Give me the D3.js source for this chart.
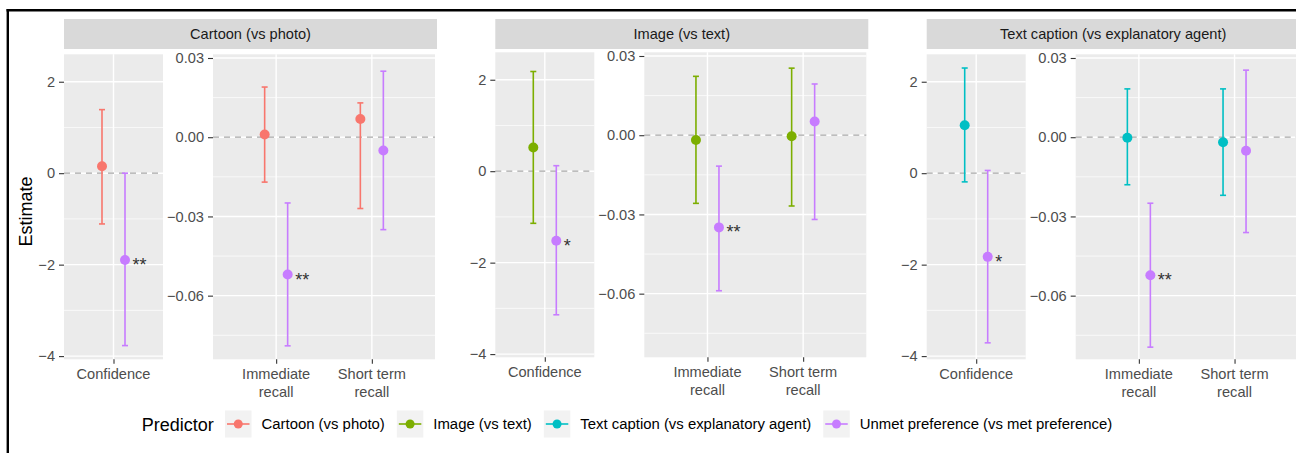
<!DOCTYPE html>
<html>
<head>
<meta charset="utf-8">
<script src="https://cdn.jsdelivr.net/npm/d3@7"></script>
<style>
  html, body { margin: 0; padding: 0; background: #fff; }
  svg { display: block; font-family: "Liberation Sans", Arial, sans-serif; }
</style>
</head>
<body>
<div id="chart"></div>
<script>
// ── data ─────────────────────────────────────────
const GROUPS = ["Cartoon (vs photo)", "Image (vs text)", "Text caption (vs explanatory agent)"];
const PREDICTORS = ["Cartoon (vs photo)", "Image (vs text)", "Text caption (vs explanatory agent)", "Unmet preference (vs met preference)"];
const PRED_COLORS = ["#F8766D", "#7CAE00", "#00BFC4", "#C77CFF"];

const CONF_OUTCOMES = ["Confidence"];
const RECALL_OUTCOMES = ["Immediate recall", "Short term recall"];
const RECALL_LABELS = [["Immediate", "recall"], ["Short term", "recall"]];

// per group: [group predictor, unmet preference]
const confEst = [[0.15, -1.90], [0.52, -1.52], [1.05, -1.83]];
const confLo  = [[-1.11, -3.77], [-1.14, -3.14], [-0.19, -3.71]];
const confHi  = [[1.39, 0.00], [2.18, 0.12], [2.30, 0.06]];
const confSig = [["", "**"], ["", "*"], ["", "*"]];

// per group: [outcome][group predictor, unmet preference]
const recallEst = [
  [[0.0010, -0.0520], [0.0069, -0.0050]],
  [[-0.0018, -0.0349], [-0.0004, 0.0052]],
  [[-0.0002, -0.0523], [-0.0019, -0.0051]]
];
const recallLo = [
  [[-0.0170, -0.0790], [-0.0270, -0.0350]],
  [[-0.0258, -0.0589], [-0.0268, -0.0319]],
  [[-0.0180, -0.0795], [-0.0220, -0.0361]]
];
const recallHi = [
  [[0.0190, -0.0249], [0.0130, 0.0250]],
  [[0.0223, -0.0117], [0.0254, 0.0194]],
  [[0.0183, -0.0250], [0.0183, 0.0254]]
];
const recallSig = [
  [["", "**"], ["", ""]],
  [["", "**"], ["", ""]],
  [["", "**"], ["", ""]]
];

const confDomain = [-4.07, 2.6];
const confTicks = [-4, -2, 0, 2];
const confMinor = [-3, -1, 1];
const recallDomain = [-0.0841, 0.0314];
const recallTicks = [-0.06, -0.03, 0, 0.03];
const recallMinor = [-0.075, -0.045, -0.015, 0.015];

// ── layout ───────────────────────────────────────
const W = 1296, H = 453;
const groupLeft = [64, 495.3, 926.7];
const groupShift = [0, -2, 0];
const stripTop = 19, stripH = 30, stripW = 373;
const panelTop = 54.3, panelBottom = 359.3;
const confW = 99, recallOff = 149, recallW = 222;
const dodge = 11.5;
const FONT = 14.6;
const LEG_FONT = 14.9;

const svg = d3.select("#chart").append("svg")
  .attr("width", W).attr("height", H);

svg.append("rect").attr("width", W).attr("height", H).attr("fill", "#fff");

function drawPanel(parent, x0, width, cats, labels, domain, ticks, minor, fmt, rows) {
  const g = parent.append("g").attr("transform", `translate(${x0},0)`);
  const y = d3.scaleLinear().domain(domain).range([panelBottom, panelTop]);
  const x = d3.scalePoint().domain(cats).range([0, width]).padding(cats.length > 1 ? 0.66 : 0.5);

  g.append("rect")
    .attr("x", 0).attr("y", panelTop)
    .attr("width", width).attr("height", panelBottom - panelTop)
    .attr("fill", "#EBEBEB");

  g.selectAll(".minor").data(minor).join("line")
    .attr("x1", 0).attr("x2", width)
    .attr("y1", d => y(d)).attr("y2", d => y(d))
    .attr("stroke", "#fff").attr("stroke-width", 0.7);
  g.selectAll(".major").data(ticks).join("line")
    .attr("x1", 0).attr("x2", width)
    .attr("y1", d => y(d)).attr("y2", d => y(d))
    .attr("stroke", "#fff").attr("stroke-width", 1.4);
  g.selectAll(".vmajor").data(cats).join("line")
    .attr("x1", d => x(d)).attr("x2", d => x(d))
    .attr("y1", panelTop).attr("y2", panelBottom)
    .attr("stroke", "#fff").attr("stroke-width", 1.4);

  // reference line at zero
  g.append("line")
    .attr("x1", 0).attr("x2", width)
    .attr("y1", y(0)).attr("y2", y(0))
    .attr("stroke", "#A8A8A8").attr("stroke-width", 1.2)
    .attr("stroke-dasharray", "6,5");

  const px = d => x(d.cat) + (d.k === 0 ? -dodge : dodge);

  const bars = g.selectAll(".eb").data(rows).join("g");
  bars.append("line")
    .attr("x1", px).attr("x2", px)
    .attr("y1", d => y(d.lo)).attr("y2", d => y(d.hi))
    .attr("stroke", d => d.color).attr("stroke-width", 1.6);
  bars.append("line")
    .attr("x1", d => px(d) - 3).attr("x2", d => px(d) + 3)
    .attr("y1", d => y(d.lo)).attr("y2", d => y(d.lo))
    .attr("stroke", d => d.color).attr("stroke-width", 1.6);
  bars.append("line")
    .attr("x1", d => px(d) - 3).attr("x2", d => px(d) + 3)
    .attr("y1", d => y(d.hi)).attr("y2", d => y(d.hi))
    .attr("stroke", d => d.color).attr("stroke-width", 1.6);
  bars.append("circle")
    .attr("cx", px).attr("cy", d => y(d.est)).attr("r", 5)
    .attr("fill", d => d.color);
  bars.filter(d => d.sig).append("text")
    .attr("x", d => px(d) + 7.5).attr("y", d => y(d.est) + 11)
    .attr("font-size", 18).attr("fill", "#333")
    .text(d => d.sig);

  // y axis
  const ya = g.append("g").call(
    d3.axisLeft(y).tickValues(ticks).tickSize(5).tickPadding(4).tickFormat(fmt));
  ya.select(".domain").remove();
  ya.selectAll(".tick line").attr("stroke", "#333").attr("stroke-width", 1.1);
  ya.selectAll(".tick text").attr("fill", "#4D4D4D").attr("font-size", FONT)
    .attr("font-family", "Liberation Sans, Arial, sans-serif");

  // x axis
  const xa = g.append("g").attr("transform", `translate(0,${panelBottom})`)
    .call(d3.axisBottom(x).tickSize(4.5).tickPadding(3).tickFormat(() => ""));
  xa.select(".domain").remove();
  xa.selectAll(".tick line").attr("stroke", "#333").attr("stroke-width", 1.1);
  xa.selectAll(".tick text").remove();
  cats.forEach((c, i) => {
    const t = g.append("text")
      .attr("x", x(c)).attr("text-anchor", "middle")
      .attr("fill", "#4D4D4D").attr("font-size", FONT);
    labels[i].forEach((ln, j) => {
      t.append("tspan").attr("x", x(c)).attr("y", 378.5 + j * 18.4).text(ln);
    });
  });
}

GROUPS.forEach((name, gi) => {
  const gx = groupLeft[gi];

  svg.append("rect")
    .attr("x", gx).attr("y", stripTop)
    .attr("width", stripW).attr("height", stripH)
    .attr("fill", "#D9D9D9");
  svg.append("text")
    .attr("x", gx + stripW / 2).attr("y", stripTop + stripH / 2 + 5.2)
    .attr("text-anchor", "middle").attr("font-size", FONT).attr("fill", "#1A1A1A")
    .text(name);

  const gg = svg.append("g").attr("transform", `translate(0,${groupShift[gi]})`);

  const confRows = [0, 1].map(k => ({
    cat: CONF_OUTCOMES[0], k,
    est: confEst[gi][k], lo: confLo[gi][k], hi: confHi[gi][k], sig: confSig[gi][k],
    color: PRED_COLORS[k === 0 ? gi : 3]
  }));
  drawPanel(gg, gx, confW, CONF_OUTCOMES, [["Confidence"]],
    confDomain, confTicks, confMinor, d3.format("d"), confRows);

  const recallRows = [];
  RECALL_OUTCOMES.forEach((o, oi) => {
    [0, 1].forEach(k => recallRows.push({
      cat: o, k,
      est: recallEst[gi][oi][k], lo: recallLo[gi][oi][k], hi: recallHi[gi][oi][k],
      sig: recallSig[gi][oi][k],
      color: PRED_COLORS[k === 0 ? gi : 3]
    }));
  });
  drawPanel(gg, gx + recallOff, recallW, RECALL_OUTCOMES, RECALL_LABELS,
    recallDomain, recallTicks, recallMinor, d3.format(".2f"), recallRows);
});

// y axis title
svg.append("text")
  .attr("transform", "translate(31.5,211.5) rotate(-90)")
  .attr("text-anchor", "middle").attr("font-size", 18).attr("fill", "#000")
  .text("Estimate");

// ── legend ───────────────────────────────────────
const legY = 424;
const leg = svg.append("g");
leg.append("text")
  .attr("x", 141.7).attr("y", legY + 6.5)
  .attr("font-size", 18).attr("fill", "#000")
  .text("Predictor");

let lx = 225;
PREDICTORS.forEach((p, i) => {
  leg.append("rect")
    .attr("x", lx).attr("y", legY - 13.5)
    .attr("width", 26.5).attr("height", 27)
    .attr("fill", "#F2F2F2");
  leg.append("line")
    .attr("x1", lx + 2).attr("x2", lx + 24.5)
    .attr("y1", legY).attr("y2", legY)
    .attr("stroke", PRED_COLORS[i]).attr("stroke-width", 1.6);
  leg.append("circle")
    .attr("cx", lx + 13.25).attr("cy", legY).attr("r", 4.5)
    .attr("fill", PRED_COLORS[i]);
  const t = leg.append("text")
    .attr("x", lx + 26.5 + 10).attr("y", legY + 5.3)
    .attr("font-size", LEG_FONT).attr("fill", "#000")
    .text(p);
  lx += 26.5 + 10 + t.node().getComputedTextLength() + 12;
});

// frame (top and left edges only, the rest is cropped)
svg.append("line").attr("x1", 6.5).attr("x2", W).attr("y1", 10.3).attr("y2", 10.3)
  .attr("stroke", "#000").attr("stroke-width", 2.4);
svg.append("line").attr("x1", 7.8).attr("x2", 7.8).attr("y1", 9).attr("y2", H)
  .attr("stroke", "#000").attr("stroke-width", 2.4);
</script>
</body>
</html>
